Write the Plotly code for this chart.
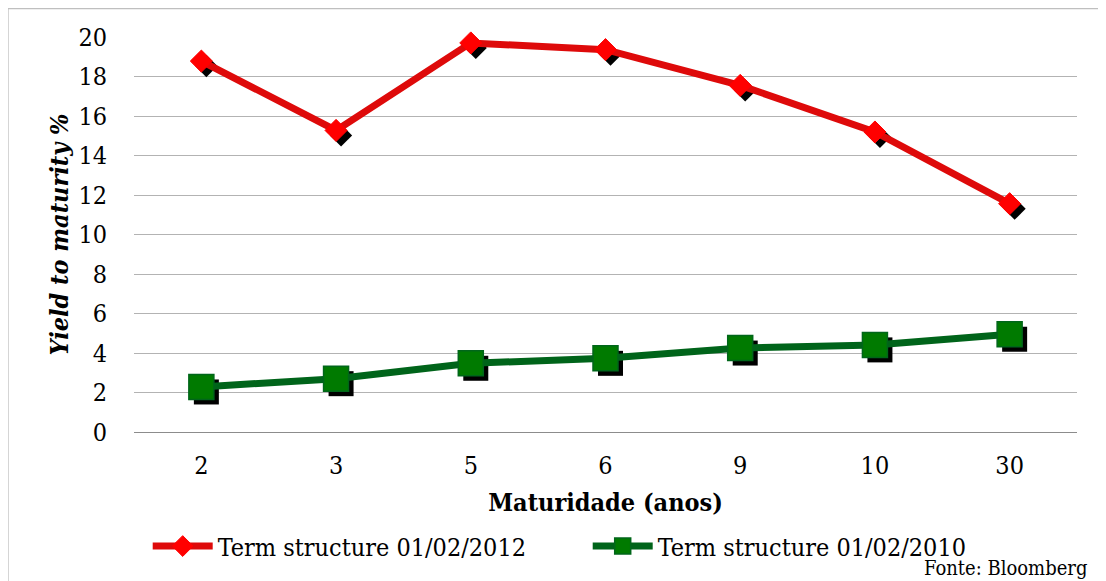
import plotly.graph_objects as go

maturities = ["2", "3", "5", "6", "9", "10", "30"]
ytm_2012 = [18.78, 15.27, 19.70, 19.36, 17.55, 15.19, 11.56]
ytm_2010 = [2.28, 2.70, 3.48, 3.73, 4.25, 4.41, 4.95]
name_2012 = "Term structure 01/02/2012"
name_2010 = "Term structure 01/02/2010"
y_ticks = [0, 2, 4, 6, 8, 10, 12, 14, 16, 18, 20]

OFF = 8  # page body margin
W, H = 1106 - OFF, 581 - OFF
L, T = 134.3 - OFF, 36.7 - OFF
R = W - (1077 - OFF)
B = H - (431.7 - OFF)
PW, PH = W - L - R, H - T - B
FONT = "DejaVu Serif Condensed, DejaVu Serif, serif"


def px_x(p):
    return (p - OFF - L) / PW


def px_y(p):
    return (H - B - (p - OFF)) / PH


xr = [-0.5, len(maturities) - 0.5]
yr = [0, 20]
dx_px, dy_px = 5, 5
dx = dx_px * (xr[1] - xr[0]) / PW
dy = dy_px * (yr[1] - yr[0]) / PH

red_line, red_fill = "#DE0A0A", "#FF0000"
grn_line, grn_fill = "#00641A", "#007A00"

fig = go.Figure()
fig.add_trace(go.Scatter(x=maturities, y=ytm_2012, mode="markers", xaxis="x", yaxis="y",
                         marker=dict(symbol="diamond", size=17, color="black"),
                         showlegend=False, hoverinfo="skip", cliponaxis=False))
fig.add_trace(go.Scatter(x=maturities, y=ytm_2010, mode="markers", xaxis="x", yaxis="y",
                         marker=dict(symbol="square", size=25, color="black"),
                         showlegend=False, hoverinfo="skip", cliponaxis=False))
fig.add_trace(go.Scatter(x=maturities, y=ytm_2012, mode="lines+markers", name=name_2012,
                         xaxis="x2", yaxis="y2", cliponaxis=False,
                         line=dict(color=red_line, width=7),
                         marker=dict(symbol="diamond", size=17, color=red_fill,
                                     line=dict(color=red_fill, width=1))))
fig.add_trace(go.Scatter(x=maturities, y=ytm_2010, mode="lines+markers", name=name_2010,
                         xaxis="x2", yaxis="y2", cliponaxis=False,
                         line=dict(color=grn_line, width=7),
                         marker=dict(symbol="square", size=25, color=grn_fill,
                                     line=dict(color="#00661A", width=1.5))))

FS = 25
tick_font = dict(family=FONT, size=FS, color="#000000")
fig.update_layout(
    width=W, height=H,
    margin=dict(l=L, r=R, t=T, b=B, autoexpand=False),
    paper_bgcolor="white", plot_bgcolor="white",
    font=dict(family=FONT, size=FS, color="#000000"),
    xaxis=dict(type="category", categoryorder="array", categoryarray=maturities,
               range=[xr[0] - dx, xr[1] - dx], visible=False),
    yaxis=dict(range=[yr[0] + dy, yr[1] + dy], visible=False),
    xaxis2=dict(type="category", categoryorder="array", categoryarray=maturities,
                range=xr, overlaying="x", anchor="y2", side="bottom",
                showgrid=False, showline=False, ticks="", tickfont=tick_font,
                ticklabelstandoff=16,
                title=dict(text="<b>Maturidade (anos)</b>", font=dict(family=FONT, size=FS),
                           standoff=14)),
    yaxis2=dict(range=yr, overlaying="y", anchor="x2", side="left",
                tickvals=y_ticks, showgrid=True, gridcolor="#b3b3b3", gridwidth=1.3,
                zeroline=True, zerolinecolor="#8c8c8c", zerolinewidth=1.3,
                showline=False, ticks="", tickfont=tick_font, ticklabelstandoff=26,
                title=dict(text="<b><i>Yield to maturity %</i></b>",
                           font=dict(family=FONT, size=FS), standoff=2)),
    legend=dict(orientation="h", x=px_x(148), xanchor="left",
                y=px_y(546), yanchor="middle",
                font=dict(family=FONT, size=FS), itemwidth=60,
                entrywidth=365, entrywidthmode="pixels",
                bgcolor="rgba(0,0,0,0)", traceorder="normal"),
    showlegend=True,
    annotations=[dict(text="Fonte: Bloomberg", xref="paper", yref="paper",
                      x=px_x(1089), y=px_y(568),
                      xanchor="right", yanchor="middle", showarrow=False,
                      font=dict(family=FONT, size=20, color="#000000"))],
    shapes=[dict(type="rect", xref="paper", yref="paper",
                 x0=px_x(8), x1=px_x(1130), y0=px_y(600), y1=px_y(8),
                 line=dict(color="#bfbfbf", width=2), fillcolor="rgba(0,0,0,0)",
                 layer="below")],
)

fig.write_html("out.html")
